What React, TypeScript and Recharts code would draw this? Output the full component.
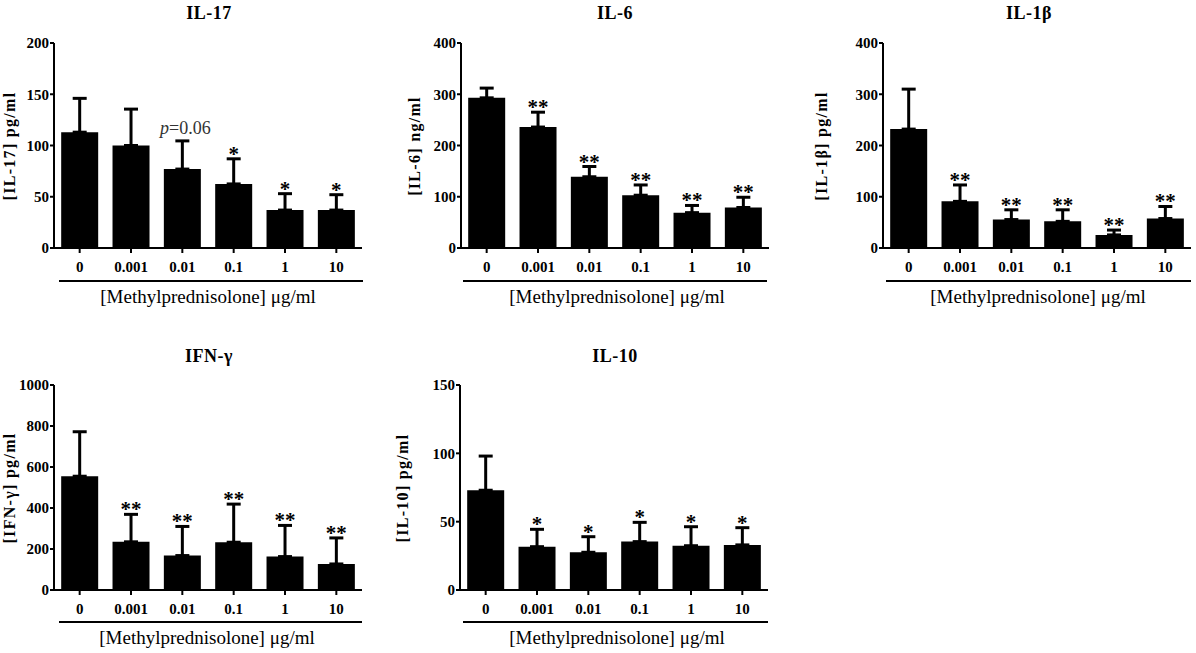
import React from 'react';
import { ComposedChart, Bar, Line, XAxis, YAxis, ErrorBar, LabelList } from 'recharts';

// dose categories shared by every panel
const doses = ['0', '0.001', '0.01', '0.1', '1', '10'];

const il17Mean = [113, 100, 77, 62.5, 37, 37];
const il17Sd = [33, 35.5, 27.5, 24.5, 16, 15];
const il17Sig = ['', '', 'p=0.06', '*', '*', '*'];
const il17Ticks = [0, 50, 100, 150, 200];

const il6Mean = [293, 236, 139, 103, 69, 79];
const il6Sd = [19, 29, 20, 20, 14, 20];
const il6Sig = ['', '**', '**', '**', '**', '**'];
const il6Ticks = [0, 100, 200, 300, 400];

const il1bMean = [232, 91, 55.5, 52, 25.5, 57.5];
const il1bSd = [78, 32, 19, 22.5, 9.5, 23.5];
const il1bSig = ['', '**', '**', '**', '**', '**'];
const il1bTicks = [0, 100, 200, 300, 400];

const ifngMean = [555, 235, 168, 233, 163, 127];
const ifngSd = [217, 134, 142, 186, 152, 127];
const ifngSig = ['', '**', '**', '**', '**', '**'];
const ifngTicks = [0, 200, 400, 600, 800, 1000];

const il10Mean = [73, 31.7, 27.6, 35.4, 32.4, 33];
const il10Sd = [25, 12.7, 11.4, 14.1, 13.9, 12.6];
const il10Sig = ['', '*', '*', '*', '*', '*'];
const il10Ticks = [0, 50, 100, 150];

const xLabel = '[Methylprednisolone] \u03bcg/ml';

const FONT = '"Liberation Serif", "Times New Roman", serif';
const Y_AXIS_W = 40;
const PLOT_W = 308;
const PLOT_H = 205;
const TOP_M = 43;
const X_AXIS_H = 30;

const tickStyle = { fill: '#000', fontSize: 15, fontWeight: 700, fontFamily: FONT };
const axisStroke = { stroke: '#000', strokeWidth: 2 };

const SigLabel = (props: any) => {
    const { x, y, value } = props;
    if (!value) return null;
    if (String(value).startsWith('p')) {
        return (
            <text x={x + 3} y={y - 7} textAnchor="middle" fontSize={18} fontFamily={FONT} fill="#333">
                <tspan fontStyle="italic">p</tspan>
                {String(value).slice(1)}
            </text>
        );
    }
    return (
        <text x={x} y={y + 2} textAnchor="middle" fontSize={21} fontWeight={700} fontFamily={FONT} fill="#000">
            {value}
        </text>
    );
};

interface Layout {
    axisX: number;
    plotTop: number;
    yLabelX: number;
    titleX: number;
    titleY: number;
    xLabelX: number;
    xLabelY: number;
    lineX1: number;
    lineX2: number;
    lineY: number;
}

interface PanelProps {
    title: string;
    yLabel: string;
    mean: number[];
    sd: number[];
    sig: string[];
    ticks: number[];
    layout: Layout;
}

const Panel: React.FC<PanelProps> = ({ title, yLabel, mean, sd, sig, ticks, layout }) => {
    const data = doses.map((d, i) => ({
        dose: d,
        mean: mean[i],
        err: [0, sd[i]],
        top: mean[i] + sd[i],
        sig: sig[i],
    }));
    const { axisX, plotTop, yLabelX, titleX, titleY, xLabelX, xLabelY, lineX1, lineX2, lineY } = layout;

    return (
        <>
            <div
                style={{
                    position: 'absolute',
                    left: titleX,
                    top: titleY,
                    transform: 'translate(-50%, -50%)',
                    fontSize: 18,
                    fontWeight: 700,
                    letterSpacing: 0.5,
                    whiteSpace: 'nowrap',
                }}
            >
                {title}
            </div>
            <div
                style={{
                    position: 'absolute',
                    left: yLabelX,
                    top: plotTop + PLOT_H / 2,
                    transform: 'translate(-50%, -50%) rotate(-90deg)',
                    fontSize: 16,
                    fontWeight: 700,
                    letterSpacing: 1.3,
                    whiteSpace: 'nowrap',
                }}
            >
                {yLabel}
            </div>
            <div style={{ position: 'absolute', left: axisX - Y_AXIS_W, top: plotTop - TOP_M }}>
                <ComposedChart
                    width={Y_AXIS_W + PLOT_W + 4}
                    height={TOP_M + PLOT_H + X_AXIS_H}
                    data={data}
                    margin={{ top: TOP_M, right: 4, bottom: 0, left: 0 }}
                    barCategoryGap="14%"
                >
                    <XAxis
                        dataKey="dose"
                        height={X_AXIS_H}
                        tick={tickStyle}
                        tickSize={5}
                        tickMargin={8}
                        axisLine={axisStroke}
                        tickLine={axisStroke}
                        interval={0}
                    />
                    <YAxis
                        width={Y_AXIS_W}
                        domain={[0, ticks[ticks.length - 1]]}
                        ticks={ticks}
                        interval={0}
                        tick={tickStyle}
                        tickSize={4}
                        tickMargin={1}
                        axisLine={axisStroke}
                        tickLine={axisStroke}
                    />
                    <Bar dataKey="mean" fill="#000" isAnimationActive={false}>
                        <ErrorBar dataKey="err" direction="y" width={7} stroke="#000" strokeWidth={3} />
                    </Bar>
                    <Line dataKey="top" stroke="none" dot={false} activeDot={false} isAnimationActive={false}>
                        <LabelList dataKey="sig" content={SigLabel} />
                    </Line>
                </ComposedChart>
            </div>
            <div
                style={{
                    position: 'absolute',
                    left: lineX1,
                    top: lineY - 1,
                    width: lineX2 - lineX1,
                    height: 2,
                    background: '#000',
                }}
            />
            <div
                style={{
                    position: 'absolute',
                    left: xLabelX,
                    top: xLabelY,
                    transform: 'translate(-50%, -50%)',
                    fontSize: 19,
                    whiteSpace: 'nowrap',
                }}
            >
                {xLabel}
            </div>
        </>
    );
};

const row1 = { plotTop: 43, titleY: 13, xLabelY: 297, lineY: 281 };
const row2 = { plotTop: 385, titleY: 356, xLabelY: 638, lineY: 622 };

export default function App() {
    return (
        <div
            style={{
                position: 'absolute',
                left: 0,
                top: 0,
                width: 1196,
                height: 653,
                background: '#fff',
                color: '#000',
                fontFamily: FONT,
            }}
        >
            <Panel
                title="IL-17"
                yLabel="[IL-17] pg/ml"
                mean={il17Mean}
                sd={il17Sd}
                sig={il17Sig}
                ticks={il17Ticks}
                layout={{ ...row1, axisX: 54, yLabelX: 10, titleX: 209, xLabelX: 208, lineX1: 59, lineX2: 363 }}
            />
            <Panel
                title="IL-6"
                yLabel="[IL-6] ng/ml"
                mean={il6Mean}
                sd={il6Sd}
                sig={il6Sig}
                ticks={il6Ticks}
                layout={{ ...row1, axisX: 461, yLabelX: 415, titleX: 615, xLabelX: 617, lineX1: 463, lineX2: 767 }}
            />
            <Panel
                title={'IL-1\u03b2'}
                yLabel={'[IL-1\u03b2] pg/ml'}
                mean={il1bMean}
                sd={il1bSd}
                sig={il1bSig}
                ticks={il1bTicks}
                layout={{ ...row1, axisX: 883, yLabelX: 822, titleX: 1029, xLabelX: 1038, lineX1: 886, lineX2: 1191 }}
            />
            <Panel
                title={'IFN-\u03b3'}
                yLabel={'[IFN-\u03b3] pg/ml'}
                mean={ifngMean}
                sd={ifngSd}
                sig={ifngSig}
                ticks={ifngTicks}
                layout={{ ...row2, axisX: 54, yLabelX: 10, titleX: 209, xLabelX: 207, lineX1: 59, lineX2: 362 }}
            />
            <Panel
                title="IL-10"
                yLabel="[IL-10] pg/ml"
                mean={il10Mean}
                sd={il10Sd}
                sig={il10Sig}
                ticks={il10Ticks}
                layout={{ ...row2, axisX: 460, yLabelX: 403, titleX: 615, xLabelX: 617, lineX1: 463, lineX2: 768 }}
            />
        </div>
    );
}
